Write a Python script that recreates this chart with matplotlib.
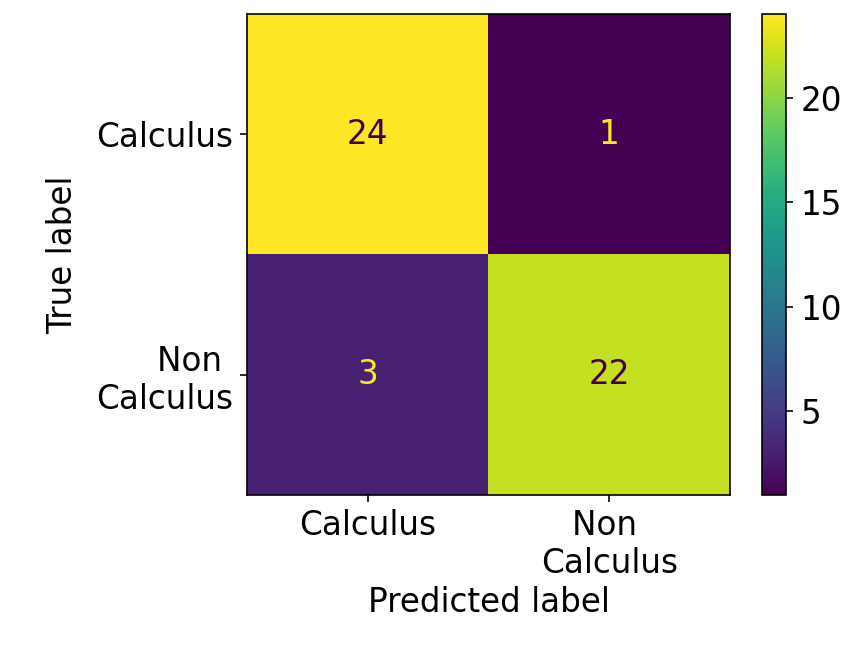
import matplotlib
matplotlib.use("Agg")
import matplotlib.pyplot as plt
import numpy as np

labels = ["Calculus", "Non \nCalculus"]
cm = np.array([[24, 1],
               [3, 22]])

plt.rcParams.update({"font.size": 16})

DPI = 147
fig = plt.figure(figsize=(846 / DPI, 658 / DPI), dpi=DPI)
ax = fig.add_axes([247 / 846, 163 / 658, 483 / 846, 481 / 658])
cax = fig.add_axes([762 / 846, 163 / 658, 24 / 846, 481 / 658])

cmap = plt.get_cmap("viridis")
im = ax.imshow(cm, interpolation="nearest", cmap=cmap, aspect="auto")
thresh = (cm.max() + cm.min()) / 2.0
lo, hi = cmap(0), cmap(1.0)
for i in range(cm.shape[0]):
    for j in range(cm.shape[1]):
        color = lo if cm[i, j] > thresh else hi
        ax.text(j, i, str(cm[i, j]), ha="center", va="center", color=color)

fig.colorbar(im, cax=cax)
ax.set_xticks(range(len(labels)))
ax.set_xticklabels(labels)
ax.set_yticks(range(len(labels)))
ax.set_yticklabels(labels)
ax.set_xlabel("Predicted label", labelpad=2.5)
ax.set_ylabel("True label", labelpad=8)

fig.savefig("out.png", dpi=DPI)
